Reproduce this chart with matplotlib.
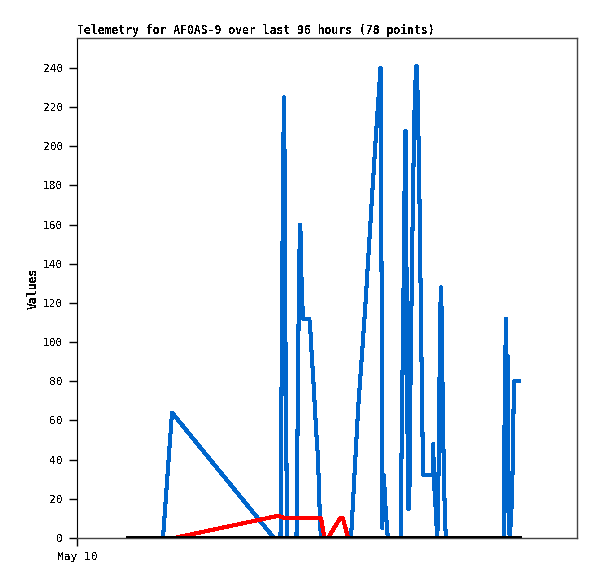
import matplotlib
matplotlib.use('Agg')
import matplotlib.pyplot as plt

# hours since May 10 00:00 (x axis spans 96 hours)
blue_x = [9.79, 16.51, 18.24, 37.82, 39.07, 39.17, 39.36, 39.55, 39.74, 39.88,
          39.99, 40.22, 40.32, 42.14, 42.24, 42.43, 42.62, 42.82, 43.01, 43.10,
          43.26, 43.39, 44.60, 44.74, 44.93, 45.12, 45.31, 45.56, 45.89, 46.27,
          46.66, 46.85, 52.61, 53.95, 55.30, 56.64, 57.60, 57.98, 58.27, 58.50,
          58.62, 58.75, 58.94, 59.14, 59.33, 59.52, 59.71, 62.15, 62.21, 62.40,
          62.59, 62.78, 62.92, 63.07, 63.23, 63.40, 63.55, 63.69, 63.80, 63.94,
          64.13, 64.32, 64.51, 64.70, 64.90, 65.18, 65.38, 65.57, 65.76, 65.95,
          66.14, 66.34, 66.49, 68.29, 68.39, 68.54, 68.79, 68.93, 69.18, 69.31,
          69.50, 69.70, 69.89, 70.02, 70.14, 70.27, 70.46, 70.66, 70.85, 81.89,
          81.98, 82.18, 82.37, 82.56, 82.66, 82.75, 82.94, 83.14, 83.33, 83.52,
          83.71, 83.90, 84.86]
blue_y = [0, 0, 64, 0, 0, 38, 112, 186, 225, 186,
          112, 38, 0, 0, 27, 80, 133, 160, 152, 133,
          120, 112, 112, 109, 100, 91, 84, 72, 56, 41,
          8, 0, 0, 65, 116, 174, 214, 228, 240, 120,
          5, 26, 32, 19, 13, 4, 0, 0, 21, 63,
          105, 146, 187, 208, 150, 80, 15, 50, 15, 60,
          100, 140, 175, 205, 230, 241, 228, 204, 172, 132,
          92, 52, 32, 32, 48, 28, 19, 11, 0, 16,
          48, 112, 128, 114, 86, 59, 31, 8, 0, 0,
          28, 84, 112, 56, 93, 24, 4, 0, 13, 18,
          48, 80, 80]

red_x = [18.62, 38.02, 38.98, 39.94, 46.85, 47.52, 48.19, 50.50, 51.07, 52.03, 84.86]
red_y = [0, 11, 11, 10, 10, 0, 0, 10, 10, 0, 0]

black_x = [9.79, 84.86]
black_y = [0, 0]

y_ticks = list(range(0, 241, 20))

mono = 'DejaVu Sans Mono'
plt.rcParams['text.antialiased'] = False

fig = plt.figure(figsize=(5.97, 5.79), dpi=100)
ax = fig.add_axes([77 / 597, 41 / 579, 500 / 597, 500 / 579])

ax.plot(blue_x, blue_y, color='#0066cc', linewidth=2.2, antialiased=False, zorder=2)
ax.plot(red_x, red_y, color='#ff0000', linewidth=2.2, antialiased=False, zorder=3)
ax.plot(black_x, black_y, color='black', linewidth=2.5, antialiased=False, zorder=4)

ax.set_xlim(0, 96)
ax.set_ylim(0, 255.3)
ax.set_yticks(y_ticks)
ax.set_yticklabels([str(v) for v in y_ticks], fontsize=8, family=mono)
ax.set_xticks([0])
ax.set_xticklabels(['May 10'], fontsize=8, family=mono)
ax.tick_params(axis='both', direction='out', length=6, width=1, pad=4)

for side in ['top', 'right', 'bottom']:
    ax.spines[side].set_color('#444444')
    ax.spines[side].set_linewidth(1)
ax.spines['left'].set_color('black')

ax.set_ylabel('Values', fontsize=8.3, family=mono, fontweight='bold', labelpad=2)
ax.set_title('Telemetry for AF0AS-9 over last 96 hours (78 points)', fontsize=8.3,
             family=mono, fontweight='bold', loc='left', pad=3)

fig.savefig('out.png', dpi=100)
